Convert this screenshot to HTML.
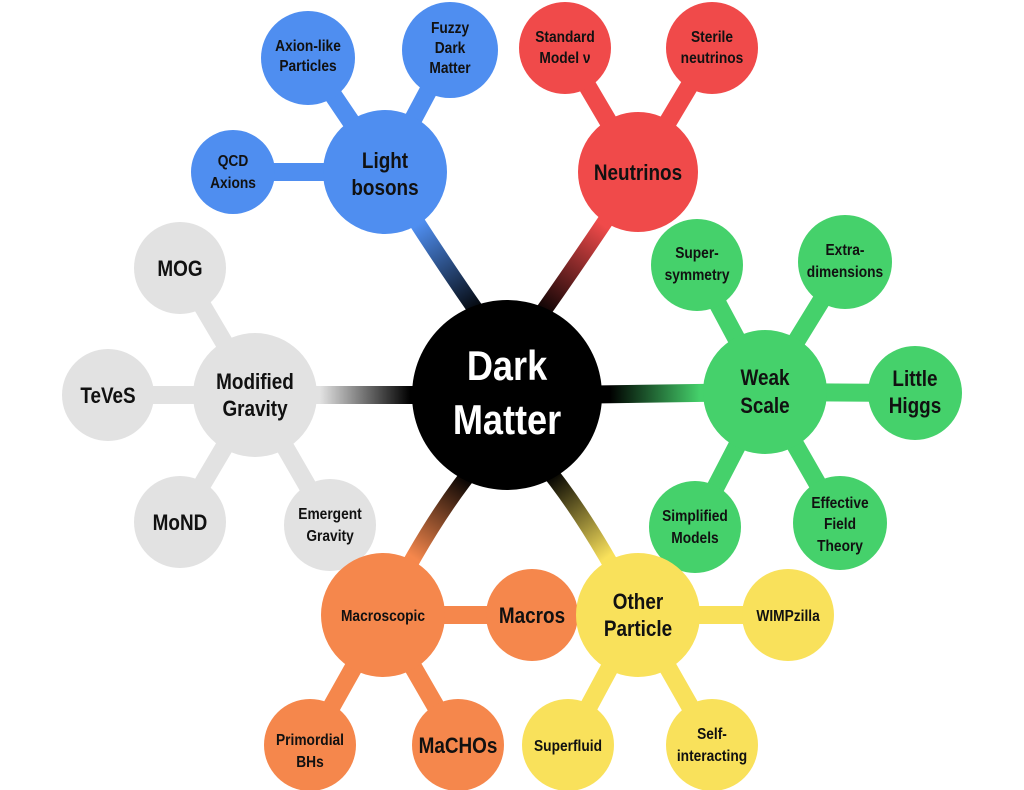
<!DOCTYPE html>
<html><head><meta charset="utf-8"><style>
html,body{margin:0;padding:0;background:#fff;width:1024px;height:790px;overflow:hidden}
text{font-family:"Liberation Sans",sans-serif;font-weight:bold;fill:#111;text-anchor:middle;transform-box:fill-box;transform-origin:center;transform:scaleX(0.86)}
</style></head><body>
<svg width="1024" height="790" viewBox="0 0 1024 790" xmlns="http://www.w3.org/2000/svg">
<defs>
<linearGradient id="gb" gradientUnits="userSpaceOnUse" x1="410" y1="230" x2="470" y2="320"><stop offset="0" stop-color="#4f8ef0"/><stop offset="1" stop-color="#000"/></linearGradient>
<linearGradient id="gr" gradientUnits="userSpaceOnUse" x1="610" y1="230" x2="545" y2="320"><stop offset="0" stop-color="#f04a4a"/><stop offset="1" stop-color="#000"/></linearGradient>
<linearGradient id="gg" gradientUnits="userSpaceOnUse" x1="700" y1="392" x2="610" y2="392"><stop offset="0" stop-color="#45d16b"/><stop offset="1" stop-color="#000"/></linearGradient>
<linearGradient id="gw" gradientUnits="userSpaceOnUse" x1="320" y1="395" x2="410" y2="395"><stop offset="0" stop-color="#e2e2e2"/><stop offset="1" stop-color="#000"/></linearGradient>
<linearGradient id="go" gradientUnits="userSpaceOnUse" x1="410" y1="555" x2="465" y2="475"><stop offset="0" stop-color="#f5874c"/><stop offset="1" stop-color="#000"/></linearGradient>
<linearGradient id="gy" gradientUnits="userSpaceOnUse" x1="610" y1="555" x2="550" y2="475"><stop offset="0" stop-color="#f9e15b"/><stop offset="1" stop-color="#000"/></linearGradient>
</defs>
<g stroke-linecap="round" fill="none">
<path d="M385 172 Q440 260 490 330" stroke="url(#gb)" stroke-width="16"/>
<path d="M638 172 Q580 260 530 330" stroke="url(#gr)" stroke-width="16"/>
<path d="M765 392 L560 395" stroke="url(#gg)" stroke-width="18"/>
<path d="M255 395 L460 395" stroke="url(#gw)" stroke-width="18"/>
<path d="M383 615 Q430 520 480 460" stroke="url(#go)" stroke-width="16"/>
<path d="M638 615 Q590 520 540 460" stroke="url(#gy)" stroke-width="16"/>
<g stroke="#4f8ef0" stroke-width="18"><path d="M385 172 L308 58"/><path d="M385 172 L450 50"/><path d="M385 172 L233 172"/></g>
<g stroke="#f04a4a" stroke-width="18"><path d="M638 172 L565 48"/><path d="M638 172 L712 48"/></g>
<g stroke="#45d16b" stroke-width="18"><path d="M765 392 L697 265"/><path d="M765 392 L845 262"/><path d="M765 392 L915 393"/><path d="M765 392 L695 527"/><path d="M765 392 L840 523"/></g>
<g stroke="#e2e2e2" stroke-width="18"><path d="M255 395 L180 268"/><path d="M255 395 L108 395"/><path d="M255 395 L180 522"/><path d="M255 395 L330 525"/></g>
<g stroke="#f5874c" stroke-width="18"><path d="M383 615 L532 615"/><path d="M383 615 L310 745"/><path d="M383 615 L458 745"/></g>
<g stroke="#f9e15b" stroke-width="18"><path d="M638 615 L788 615"/><path d="M638 615 L568 745"/><path d="M638 615 L712 745"/></g>
</g>
<circle cx="507" cy="395" r="95" fill="#000"/>
<g fill="#4f8ef0"><circle cx="385" cy="172" r="62"/><circle cx="308" cy="58" r="47"/><circle cx="450" cy="50" r="48"/><circle cx="233" cy="172" r="42"/></g>
<g fill="#f04a4a"><circle cx="638" cy="172" r="60"/><circle cx="565" cy="48" r="46"/><circle cx="712" cy="48" r="46"/></g>
<g fill="#45d16b"><circle cx="765" cy="392" r="62"/><circle cx="697" cy="265" r="46"/><circle cx="845" cy="262" r="47"/><circle cx="915" cy="393" r="47"/><circle cx="695" cy="527" r="46"/><circle cx="840" cy="523" r="47"/></g>
<g fill="#e2e2e2"><circle cx="255" cy="395" r="62"/><circle cx="180" cy="268" r="46"/><circle cx="108" cy="395" r="46"/><circle cx="180" cy="522" r="46"/><circle cx="330" cy="525" r="46"/></g>
<g fill="#f5874c"><circle cx="383" cy="615" r="62"/><circle cx="532" cy="615" r="46"/><circle cx="310" cy="745" r="46"/><circle cx="458" cy="745" r="46"/></g>
<g fill="#f9e15b"><circle cx="638" cy="615" r="62"/><circle cx="788" cy="615" r="46"/><circle cx="568" cy="745" r="46"/><circle cx="712" cy="745" r="46"/></g>
<text x="507" y="380" font-size="42" style="fill:#fff">Dark</text>
<text x="507" y="434" font-size="42" style="fill:#fff">Matter</text>
<g font-size="22"><text x="385" y="168">Light</text><text x="385" y="195">bosons</text>
<text x="638" y="180">Neutrinos</text>
<text x="765" y="385">Weak</text><text x="765" y="413">Scale</text>
<text x="255" y="389">Modified</text><text x="255" y="416">Gravity</text>
<text x="638" y="609">Other</text><text x="638" y="636">Particle</text>
<text x="180" y="276">MOG</text><text x="108" y="403">TeVeS</text><text x="180" y="530">MoND</text>
<text x="532" y="623">Macros</text><text x="458" y="753">MaCHOs</text>
<text x="915" y="386">Little</text><text x="915" y="413">Higgs</text></g>
<g font-size="16"><text x="308" y="51">Axion-like</text><text x="308" y="71">Particles</text>
<text x="450" y="33">Fuzzy</text><text x="450" y="53">Dark</text><text x="450" y="73">Matter</text>
<text x="233" y="166">QCD</text><text x="233" y="188">Axions</text>
<text x="565" y="42">Standard</text><text x="565" y="63">Model ν</text>
<text x="712" y="42">Sterile</text><text x="712" y="63">neutrinos</text>
<text x="697" y="258">Super-</text><text x="697" y="280">symmetry</text>
<text x="845" y="255">Extra-</text><text x="845" y="277">dimensions</text>
<text x="695" y="521">Simplified</text><text x="695" y="543">Models</text>
<text x="840" y="508">Effective</text><text x="840" y="529">Field</text><text x="840" y="551">Theory</text>
<text x="330" y="519">Emergent</text><text x="330" y="541">Gravity</text>
<text x="383" y="621">Macroscopic</text>
<text x="310" y="745">Primordial</text><text x="310" y="767">BHs</text>
<text x="788" y="621">WIMPzilla</text>
<text x="568" y="751">Superfluid</text>
<text x="712" y="739">Self-</text><text x="712" y="761">interacting</text></g>
</svg>
</body></html>
